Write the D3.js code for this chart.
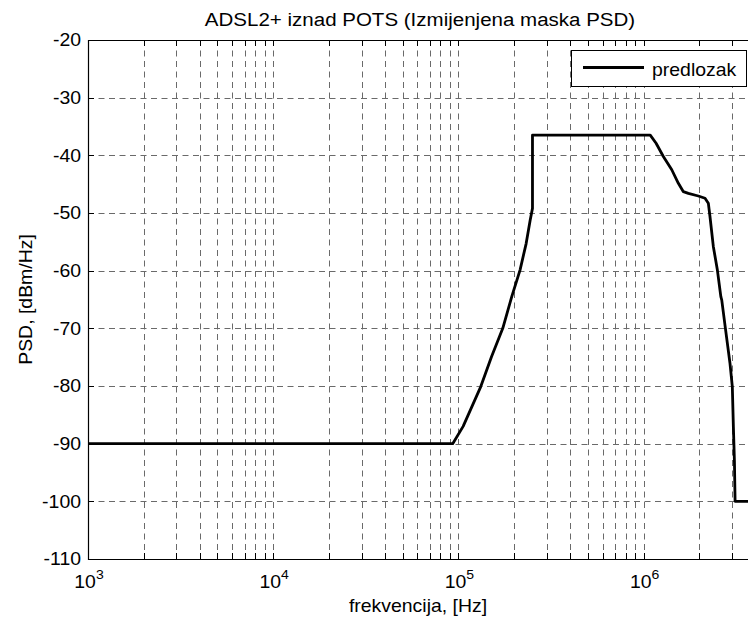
<!DOCTYPE html>
<html>
<head>
<meta charset="utf-8">
<script src="https://cdn.jsdelivr.net/npm/d3@7"></script>
<style>
  html, body { margin: 0; padding: 0; background: #fff; }
  svg { display: block; font-family: "Liberation Sans", Arial, Helvetica, sans-serif; }
</style>
</head>
<body>
<svg id="chart" width="748" height="622"></svg>
<script>
// PSD template (frequency in Hz, level in dBm/Hz)
const freqHz = [1e3, 93.1e3, 106e3, 132e3, 151e3, 173.5e3, 194e3, 215e3, 232e3, 244e3, 251e3, 251e3,
  1085e3, 1167e3, 1277e3, 1418e3, 1539e3, 1638e3, 1743e3, 1973e3, 2144e3, 2234e3, 2280e3, 2377e3,
  2500e3, 2610e3, 2640e3, 2770e3, 2925e3, 3010e3, 3050e3, 3090e3, 3115e3, 3115e3, 3.75e6];
const psdDbm = [-90, -90, -87, -80.1, -74.9, -70, -64.5, -59.9, -55.3, -51.2, -49.2, -36.5,
  -36.5, -37.9, -40.2, -42.5, -44.85, -46.3, -46.6, -47.05, -47.45, -48.3, -50.6, -55.8,
  -59.9, -64.5, -65.1, -70.3, -76.1, -80.1, -87.05, -93.1, -99.8, -100, -100];

const xDomain = [1e3, 3.75e6];
const yDomain = [-110, -20];
const yTicks = [-110, -100, -90, -80, -70, -60, -50, -40, -30, -20];
const xMajorExp = [3, 4, 5, 6];

const titleText = "ADSL2+ iznad POTS (Izmijenjena maska PSD)";
const xLabelText = "frekvencija, [Hz]";
const yLabelText = "PSD, [dBm/Hz]";
const legendText = "predlozak";

const L = 88, T = 40, R = 750, B = 559;
const svg = d3.select("#chart");
const x = d3.scaleLog().domain(xDomain).range([L, R]);
const y = d3.scaleLinear().domain(yDomain).range([B, T]);

// text is slightly widened horizontally
const SX = 1.08;
function label(parent, px, py, extra, size, anchor, str) {
  const g = parent.append("g").attr("transform", `translate(${px},${py})${extra} scale(${SX},1)`);
  const t = g.append("text").attr("text-anchor", anchor).attr("font-size", size);
  if (str !== undefined) t.text(str);
  return t;
}

// all decade subdivisions inside the x range
const xMinor = [];
for (let e = 3; e <= 6; e++) {
  for (let m = 1; m <= 9; m++) {
    const v = m * Math.pow(10, e);
    if (v >= xDomain[0] && v <= xDomain[1]) xMinor.push(v);
  }
}

const grid = svg.append("g").attr("stroke", "#6a6a6a").attr("stroke-width", 1)
  .attr("stroke-dasharray", "6,4.5").attr("fill", "none");
grid.selectAll("line.vx").data(xMinor.filter(v => v > xDomain[0])).join("line")
  .attr("x1", d => Math.round(x(d)) + 0.5).attr("x2", d => Math.round(x(d)) + 0.5)
  .attr("y1", T).attr("y2", B);
grid.selectAll("line.hy").data(yTicks.filter(v => v > yDomain[0] && v < yDomain[1])).join("line")
  .attr("y1", d => Math.round(y(d)) + 0.5).attr("y2", d => Math.round(y(d)) + 0.5)
  .attr("x1", L).attr("x2", R);

// tick marks drawn inward on every side
const ticks = svg.append("g").attr("stroke", "#000").attr("stroke-width", 1);
const tl = 6;
xMinor.forEach(v => {
  const px = Math.round(x(v)) + 0.5;
  ticks.append("line").attr("x1", px).attr("x2", px).attr("y1", B).attr("y2", B - tl);
  ticks.append("line").attr("x1", px).attr("x2", px).attr("y1", T).attr("y2", T + tl);
});
yTicks.forEach(v => {
  const py = Math.round(y(v)) + 0.5;
  ticks.append("line").attr("x1", L).attr("x2", L + tl).attr("y1", py).attr("y2", py);
});

// axes frame
svg.append("path").attr("fill", "none").attr("stroke", "#000").attr("stroke-width", 1.2)
  .attr("d", `M${R + 2},${T + 0.5}H${L + 0.5}V${B + 0.5}H${R + 2}`);

// PSD curve
const line = d3.line().x((d, i) => x(freqHz[i])).y(d => y(d));
svg.append("path").datum(psdDbm).attr("fill", "none").attr("stroke", "#000")
  .attr("stroke-width", 2.8).attr("stroke-linejoin", "round").attr("d", line);

// y tick labels
const yl = svg.append("g");
yTicks.forEach(v => {
  label(yl, 81, y(v), "", 18, "end", v).attr("dy", "0.36em");
});

// x tick labels as powers of ten
const xl = svg.append("g");
xMajorExp.forEach(e => {
  const t = label(xl, x(Math.pow(10, e)) + 1, 588, "", 18, "middle");
  t.append("tspan").text("10");
  t.append("tspan").attr("font-size", 13).attr("dy", -9).text(e);
});

// title and axis labels
label(svg, 420, 26, "", 19, "middle", titleText);
label(svg, 418, 612, "", 18, "middle", xLabelText);
label(svg, 32, (T + B) / 2, " rotate(-90)", 18, "middle", yLabelText);

// legend
const lg = svg.append("g");
lg.append("rect").attr("x", 571.5).attr("y", 50.5).attr("width", 175).attr("height", 36)
  .attr("fill", "#fff").attr("stroke", "#000").attr("stroke-width", 1);
lg.append("line").attr("x1", 583).attr("x2", 644).attr("y1", 67.5).attr("y2", 67.5)
  .attr("stroke", "#000").attr("stroke-width", 2.8);
label(lg, 652, 75.5, "", 18, "start", legendText);
</script>
</body>
</html>
